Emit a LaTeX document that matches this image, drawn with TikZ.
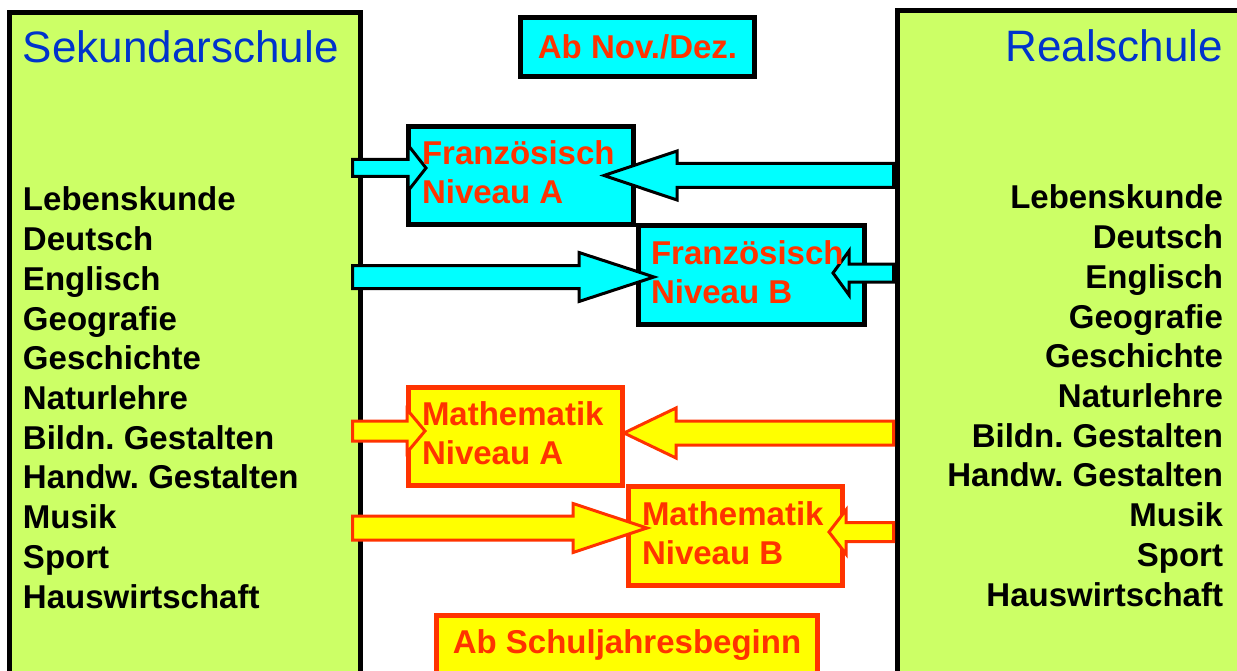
\documentclass[tikz,border=0pt]{standalone}
\usepackage{fontspec}
\setmainfont{Liberation Sans}
\frenchspacing
\usetikzlibrary{calc}
\definecolor{schoolgreen}{RGB}{204,255,102}
\definecolor{titleblue}{RGB}{0,51,204}
\definecolor{signred}{RGB}{255,51,0}
\definecolor{signyellow}{RGB}{255,255,0}
\definecolor{signcyan}{RGB}{0,255,255}
% block arrow: style, tail, tip, half shaft, half head, head length
\newcommand\blockarrow[6]{%
  \draw[#1] ($(#2)+(0,#4pt)$) -- ($(#3)!#6pt!(#2)+(0,#4pt)$)
    -- ($(#3)!#6pt!(#2)+(0,#5pt)$) -- (#3)
    -- ($(#3)!#6pt!(#2)-(0,#5pt)$) -- ($(#3)!#6pt!(#2)-(0,#4pt)$)
    -- ($(#2)-(0,#4pt)$) -- cycle;}

\begin{document}
\begin{tikzpicture}[x=1pt,y=-1pt,% one unit is one pixel of the slide
    every node/.style={inner sep=0pt,outer sep=0pt},
    school/.style={draw=black,line width=5pt,fill=schoolgreen,anchor=north west},
    frenchbox/.style={draw=black,line width=5pt,fill=signcyan,anchor=north west},
    mathbox/.style={draw=signred,line width=5pt,fill=signyellow,anchor=north west},
    frencharrow/.style={draw=black,line width=3pt,fill=signcyan},
    matharrow/.style={draw=signred,line width=3pt,fill=signyellow},
    title/.style={text=titleblue,font=\fontsize{44}{50}\selectfont},
    subject/.style={font=\bfseries\fontsize{33}{39}\selectfont},
    boxlabel/.style={text=signred,align=left,anchor=base west,
      font=\bfseries\fontsize{33}{39}\selectfont}
  ]
  \path[use as bounding box,clip] (0,0) rectangle (1237,671);

  % the two schools
  \node[school,minimum width=351pt,minimum height=800pt] (sek) at (9.5,12.5) {};
  \node[school,minimum width=400pt,minimum height=800pt] (real) at (897.5,10.5) {};
  \node[title,anchor=base west] (sek-title) at (23,63) {Sekundarschule};
  \node[title,anchor=base east] (real-title) at (1223,62) {Realschule};
  \foreach \subj [count=\i] in {Lebenskunde,Deutsch,Englisch,Geografie,Geschichte,
      Naturlehre,Bildn. Gestalten,Handw. Gestalten,Musik,Sport,Hauswirtschaft}{
    \node[subject,anchor=base west] (sek-\i) at (23,{211+39.7*(\i-1)}) {\subj};
    \node[subject,anchor=base east] (real-\i) at (1223,{209+39.7*(\i-1)}) {\subj};
  }

  % the level groups
  \node[frenchbox,minimum width=234pt,minimum height=59pt,text=signred,
    font=\bfseries\fontsize{33}{39}\selectfont] (nov) at (520.5,17.5) {Ab Nov./Dez.};
  \node[frenchbox,minimum width=225pt,minimum height=98pt] (frA) at (408.5,126.5) {};
  \node[frenchbox,minimum width=226pt,minimum height=99pt] (frB) at (638.5,225.5) {};
  \node[mathbox,minimum width=214pt,minimum height=98pt] (mA) at (408.5,387.5) {};
  \node[mathbox,minimum width=214pt,minimum height=99pt] (mB) at (628.5,486.5) {};
  \node[mathbox,minimum width=381pt,minimum height=60pt,text=signred,
    font=\bfseries\fontsize{33}{39}\selectfont] (schul) at (436.5,615.5) {Ab Schuljahresbeginn};

  % arrow tips and tails
  \coordinate (frA-left) at ([xshift=17.5pt,yshift=7.5pt]frA.west);
  \coordinate (frA-right) at ([xshift=-29.5pt]frA.east);
  \coordinate (frB-left) at ([xshift=15.5pt,yshift=-2pt]frB.west);
  \coordinate (frB-right) at ([xshift=-31.5pt,yshift=2pt]frB.east);
  \coordinate (mA-left) at ([xshift=16.5pt,yshift=5.5pt]mA.west);
  \coordinate (mA-right) at ([xshift=1.5pt,yshift=3.5pt]mA.east);
  \coordinate (mB-left) at ([xshift=18.5pt,yshift=8pt]mB.west);
  \coordinate (mB-right) at ([xshift=-13.5pt,yshift=4pt]mB.east);
  \foreach \b in {frA,frB,mA,mB}{
    \coordinate (sek-\b) at ($(sek.east |- \b-left)+(-8pt,0)$);
    \coordinate (real-\b) at ($(real.west |- \b-right)+(-4pt,0)$);
  }

  \blockarrow{frencharrow}{sek-frA}{frA-left}{8.5}{23}{18}
  \blockarrow{frencharrow}{real-frA}{frA-right}{12}{24.5}{73}
  \blockarrow{frencharrow}{sek-frB}{frB-left}{11.5}{24.5}{75}
  \blockarrow{frencharrow}{real-frB}{frB-right}{9}{22}{16}
  \blockarrow{matharrow}{sek-mA}{mA-left}{10}{21.5}{18}
  \blockarrow{matharrow}{real-mA}{mA-right}{12}{25}{52}
  \blockarrow{matharrow}{sek-mB}{mB-left}{12}{24.5}{74}
  \blockarrow{matharrow}{real-mB}{mB-right}{9.5}{22}{17}

  % labels go on top of the arrows (base = last line)
  \node[boxlabel] (frA-text) at (422,204) {Französisch\\Niveau A};
  \node[boxlabel] (frB-text) at (651,303) {Französisch\\Niveau B};
  \node[boxlabel] (mA-text) at (422,464) {Mathematik\\Niveau A};
  \node[boxlabel] (mB-text) at (642,564) {Mathematik\\Niveau B};
\end{tikzpicture}
\end{document}
